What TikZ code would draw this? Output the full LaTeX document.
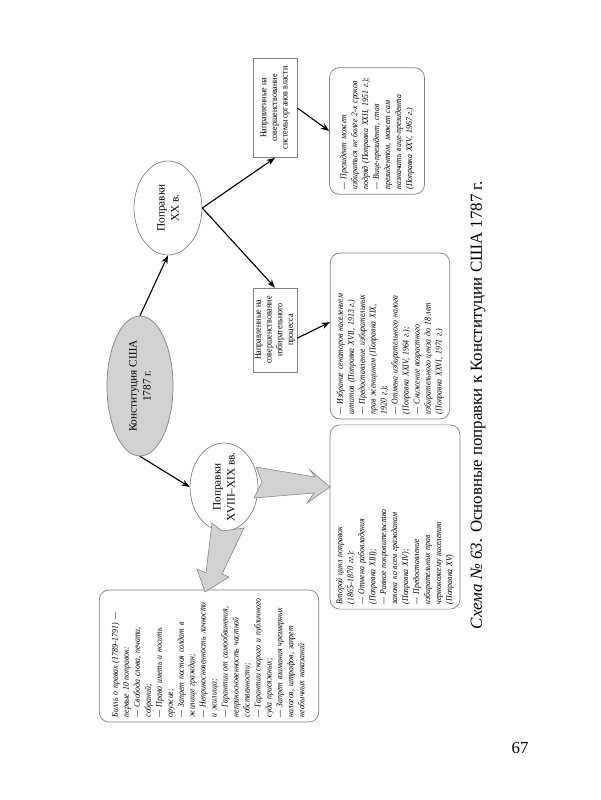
\documentclass[tikz,border=0pt]{standalone}
\usepackage{fontspec}
\setmainfont{Liberation Serif}
\newfontfamily\narrowserif[FakeStretch=0.88]{Liberation Serif}
\usetikzlibrary{shapes.geometric,arrows.meta}
\definecolor{lgray}{RGB}{210,210,210}
\definecolor{edgegray}{RGB}{130,130,130}
\tikzset{
  txtbox/.style={draw=edgegray, line width=0.5pt, rounded corners=7pt, rotate=90, align=left,
    inner xsep=3.5pt, inner ysep=2pt, font=\narrowserif\fontsize{6.3}{7.8}\selectfont\itshape},
  dirbox/.style={draw=edgegray, line width=0.5pt, rotate=90, align=center, inner sep=1pt,
    minimum height=31.3pt, font=\narrowserif\fontsize{6.5}{7.6}\selectfont},
  oval/.style={draw=edgegray, line width=0.5pt, ellipse, rotate=90, inner sep=0pt,
    font=\fontsize{8}{9.5}\selectfont},
  link/.style={line width=0.8pt, -{Stealth[length=6pt,width=4.5pt]}},
  blockarrow/.style={fill=lgray, draw=edgegray, line width=0.4pt}
}
\begin{document}
\begin{tikzpicture}[x=0.025cm,y=-0.025cm]
\useasboundingbox (0,0) rectangle (600,800);
\fill[white] (0,0) rectangle (600,800);

% ellipses
\node[oval, fill=lgray, minimum width=99.5pt, minimum height=47pt] (const) at (140,386)
  {\makebox[0pt]{\shortstack{Конституция США\\1787 г.}}};
\node[oval, fill=white, minimum width=66.8pt, minimum height=48.3pt] (xx) at (168,208)
  {\makebox[0pt]{\shortstack{Поправки\\XX в.}}};
\node[oval, fill=white, minimum width=62.6pt, minimum height=48.3pt] (xviii) at (224,487)
  {\makebox[0pt]{\shortstack{Поправки\\XVIII–XIX вв.}}};

% direction boxes
\node[dirbox, minimum width=70.4pt] (r1) at (275,108)
  {Направленные на\\совершенствование\\системы органов власти};
\node[dirbox, minimum width=59.7pt] (r2) at (275,330)
  {Направленные на\\совершенствование\\избирательного\\процесса};

% text boxes
\node[txtbox, text width=87pt, minimum height=156pt] (b1) at (209,656)
  {\begin{tabular}{@{}l@{}}Билль о правах (1789–1791) —\\первые 10 поправок:\\— Свобода слова, печати,\\собраний;\\— Право иметь и носить\\оружие;\\— Запрет постоя солдат в\\жилище граждан;\\— Неприкосновенность личности\\и жилища;\\— Гарантии от самообвинения,\\неприкосновенность частной\\собственности;\\— Гарантии скорого и публичного\\суда присяжных;\\— Запрет взимания чрезмерных\\налогов, штрафов, запрет\\необычных наказаний\end{tabular}};
\node[txtbox, text width=124pt, minimum height=92.4pt] (b2) at (395,517)
  {\begin{tabular}{@{}l@{}}Второй цикл поправок\\(1865–1870 гг.):\\— Отмена рабовладения\\(Поправка XIII);\\— Равное покровительство\\закона ко всем гражданам\\(Поправка XIV);\\— Предоставление\\избирательных прав\\чернокожему населению\\(Поправка XV)\end{tabular}};
\node[txtbox, text width=111pt, minimum height=85pt] (b3) at (390,336)
  {\begin{tabular}{@{}l@{}}— Избрание сенаторов населением\\штатов (Поправка XVII, 1913 г.)\\— Предоставление избирательных\\прав женщинам (Поправка XIX,\\1920 г.);\\— Отмена избирательного налога\\(Поправка XXIV, 1964 г.);\\— Снижение возрастного\\избирательного ценза до 18 лет\\(Поправка XXVI, 1971 г.)\end{tabular}};
\node[txtbox, text width=83pt, minimum height=67.5pt] (b4) at (377,131)
  {\begin{tabular}{@{}l@{}}— Президент может\\избираться не более 2-х сроков\\подряд (Поправка XXII, 1951 г.);\\— Вице-президент, став\\президентом, может сам\\назначать вице-президента\\(Поправка XXV, 1967 г.)\end{tabular}};

% connectors
\draw[link] (const.east) -- (xx.west);
\draw[link] (const.west) -- (xviii.north);
\draw[link] (xx.south) -- (r1.west);
\draw[link] (xx.south) -- (r2.east);
\draw[link] (r1.south) -- (b4.north);
\draw[link] (r2.250) -- (b3.77);

% block arrows
\draw[blockarrow] (256,467) -- (315,477) -- (310,470) -- (330,487) -- (307,503) -- (314,493) -- (254,498) -- (262,482) -- cycle;
\draw[blockarrow] (212,523) -- (222,531) -- (244,528) -- (222,574) -- (229,577) -- (205,592) -- (197,569) -- (206,573) -- cycle;

% caption
\node[rotate=90, font=\fontsize{12}{14}\selectfont] (title) at (478,405)
  {\textit{Схема № 63.} Основные поправки к Конституции США 1787 г.};
\node[font=\fontsize{12}{14}\selectfont] (page) at (520,748) {67};
\end{tikzpicture}
\end{document}
